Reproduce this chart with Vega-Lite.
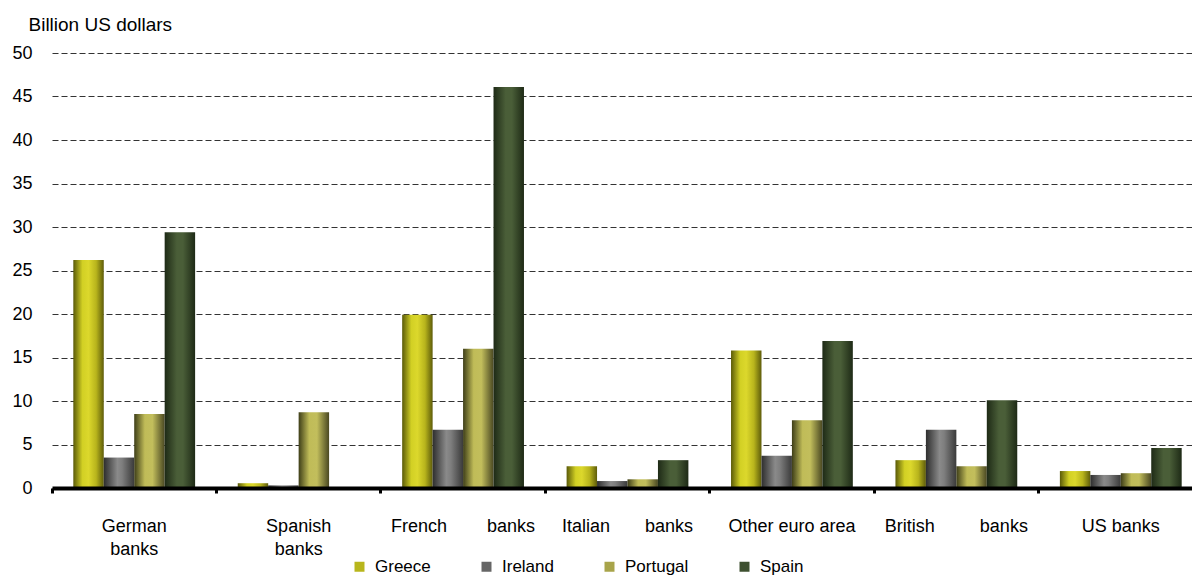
{
  "$schema": "https://vega.github.io/schema/vega-lite/v6.json",
  "width": 1151,
  "height": 435,
  "autosize": {"type": "none"},
  "padding": {"left": 52, "top": 53, "right": -11, "bottom": 87},
  "background": "white",
  "config": {
    "font": "Liberation Sans",
    "view": {"stroke": null},
    "axis": {"labelColor": "black", "titleColor": "black", "labelFont": "Liberation Sans", "titleFont": "Liberation Sans"},
    "legend": {"labelFont": "Liberation Sans", "labelColor": "black"}
  },
  "data": {
    "values": [
      {"bank": "German banks", "country": "Greece", "value": 26.2},
      {"bank": "German banks", "country": "Ireland", "value": 3.5},
      {"bank": "German banks", "country": "Portugal", "value": 8.5},
      {"bank": "German banks", "country": "Spain", "value": 29.4},
      {"bank": "Spanish banks", "country": "Greece", "value": 0.55},
      {"bank": "Spanish banks", "country": "Ireland", "value": 0.3},
      {"bank": "Spanish banks", "country": "Portugal", "value": 8.7},
      {"bank": "Spanish banks", "country": "Spain", "value": 0},
      {"bank": "French banks", "country": "Greece", "value": 19.9},
      {"bank": "French banks", "country": "Ireland", "value": 6.7},
      {"bank": "French banks", "country": "Portugal", "value": 16.0},
      {"bank": "French banks", "country": "Spain", "value": 46.1},
      {"bank": "Italian banks", "country": "Greece", "value": 2.5},
      {"bank": "Italian banks", "country": "Ireland", "value": 0.8},
      {"bank": "Italian banks", "country": "Portugal", "value": 1.0},
      {"bank": "Italian banks", "country": "Spain", "value": 3.2},
      {"bank": "Other euro area", "country": "Greece", "value": 15.8},
      {"bank": "Other euro area", "country": "Ireland", "value": 3.7},
      {"bank": "Other euro area", "country": "Portugal", "value": 7.8},
      {"bank": "Other euro area", "country": "Spain", "value": 16.9},
      {"bank": "British banks", "country": "Greece", "value": 3.2},
      {"bank": "British banks", "country": "Ireland", "value": 6.7},
      {"bank": "British banks", "country": "Portugal", "value": 2.5},
      {"bank": "British banks", "country": "Spain", "value": 10.1},
      {"bank": "US banks", "country": "Greece", "value": 1.95},
      {"bank": "US banks", "country": "Ireland", "value": 1.5},
      {"bank": "US banks", "country": "Portugal", "value": 1.7},
      {"bank": "US banks", "country": "Spain", "value": 4.6}
    ]
  },
  "mark": {"type": "bar", "strokeWidth": 0},
  "encoding": {
    "x": {
      "field": "bank",
      "type": "nominal",
      "sort": null,
      "scale": {"paddingInner": 0, "paddingOuter": 0},
      "axis": {
        "title": null,
        "labelAngle": 0,
        "labelFontSize": 18,
        "labelLineHeight": 23,
        "labelPadding": 24,
        "labelBaseline": "top",
        "labelExpr": "datum.value == 'German banks' ? ['German', 'banks'] : datum.value == 'Spanish banks' ? ['Spanish', 'banks'] : datum.value == 'French banks' ? 'French\u00a0\u00a0\u00a0\u00a0\u00a0\u00a0\u00a0\u00a0banks' : datum.value == 'Italian banks' ? 'Italian\u00a0\u00a0\u00a0\u00a0\u00a0\u00a0\u00a0banks' : datum.value == 'British banks' ? 'British\u00a0\u00a0\u00a0\u00a0\u00a0\u00a0\u00a0\u00a0\u00a0banks' : datum.value",
        "bandPosition": 0,
        "domainColor": "black",
        "domainWidth": 4,
        "tickColor": "black",
        "tickWidth": 3,
        "tickSize": 5,
        "grid": false,
        "zindex": 1
      }
    },
    "xOffset": {
      "field": "country",
      "type": "nominal",
      "scale": {"paddingInner": 0, "paddingOuter": 0.7}
    },
    "y": {
      "field": "value",
      "type": "quantitative",
      "scale": {"domain": [0, 50], "nice": false},
      "axis": {
        "title": "Billion US dollars",
        "titleAngle": 0,
        "titleAlign": "left",
        "titleBaseline": "middle",
        "titleX": -24,
        "titleY": -29,
        "titleFontSize": 19,
        "titleFontWeight": "normal",
        "values": [0, 5, 10, 15, 20, 25, 30, 35, 40, 45, 50],
        "labelFontSize": 18,
        "labelPadding": 20,
        "domain": false,
        "ticks": false,
        "grid": true,
        "gridColor": "#333333",
        "gridDash": [6, 3],
        "gridWidth": 1
      }
    },
    "color": {
      "field": "country",
      "type": "nominal",
      "condition": [
        {"test": "datum.country == 'Greece'", "value": {"gradient": "linear", "x1": 0, "x2": 1, "y1": 0, "y2": 0, "stops": [{"offset": 0, "color": "#5a5a08"}, {"offset": 0.3, "color": "#d2d024"}, {"offset": 0.5, "color": "#dcd82c"}, {"offset": 0.75, "color": "#b8b41c"}, {"offset": 1, "color": "#5e5c0a"}]}},
        {"test": "datum.country == 'Ireland'", "value": {"gradient": "linear", "x1": 0, "x2": 1, "y1": 0, "y2": 0, "stops": [{"offset": 0, "color": "#2e2e2e"}, {"offset": 0.45, "color": "#8a8a8a"}, {"offset": 0.6, "color": "#7e7e7e"}, {"offset": 1, "color": "#3a3a3a"}]}},
        {"test": "datum.country == 'Portugal'", "value": {"gradient": "linear", "x1": 0, "x2": 1, "y1": 0, "y2": 0, "stops": [{"offset": 0, "color": "#3e3e18"}, {"offset": 0.35, "color": "#c0bc58"}, {"offset": 0.6, "color": "#c2be5c"}, {"offset": 1, "color": "#4a4822"}]}},
        {"test": "datum.country == 'Spain'", "value": {"gradient": "linear", "x1": 0, "x2": 1, "y1": 0, "y2": 0, "stops": [{"offset": 0, "color": "#1e2a16"}, {"offset": 0.4, "color": "#4a5e38"}, {"offset": 0.6, "color": "#4a5e38"}, {"offset": 1, "color": "#1e2a16"}]}}
      ],
      "scale": {
        "domain": ["Greece", "Ireland", "Portugal", "Spain"],
        "range": ["#b8b61c", "#666666", "#a8a44a", "#3e5030"]
      },
      "legend": {
        "title": null,
        "orient": "none",
        "direction": "horizontal",
        "legendX": 299,
        "legendY": 505,
        "symbolType": "square",
        "symbolSize": 100,
        "symbolStrokeWidth": 0,
        "labelFontSize": 17,
        "labelOffset": 7,
        "columnPadding": 47,
        "padding": 0
      }
    }
  }
}
